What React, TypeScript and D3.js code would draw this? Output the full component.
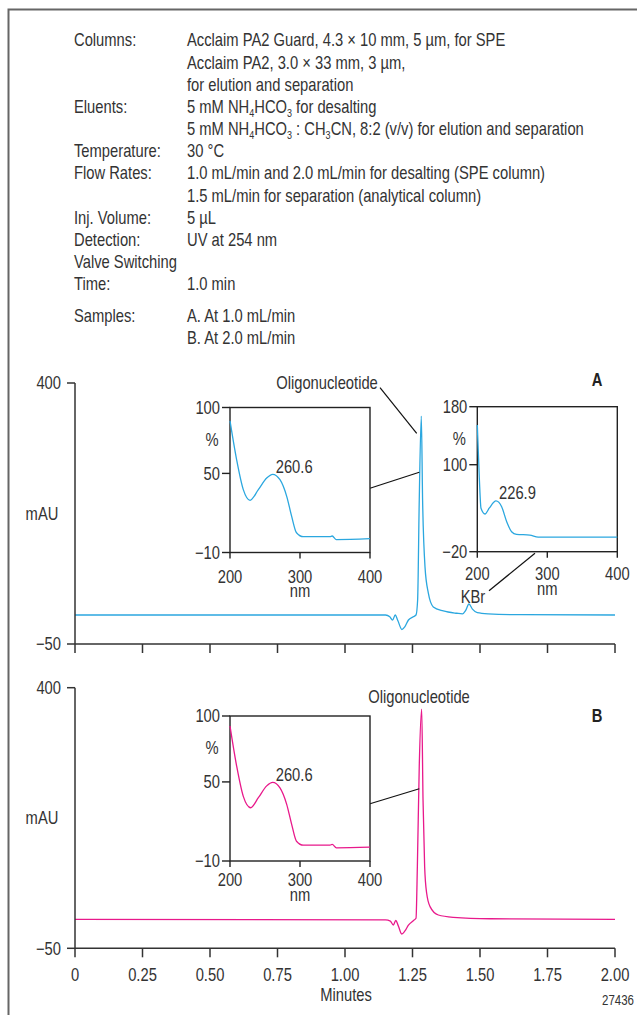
import React from 'react';
import * as d3 from 'd3';

// no condensed face installed: squeeze Liberation Sans horizontally
const FONT = "'Liberation Sans', Arimo, Arial, sans-serif";
const SX = 0.82;

// method conditions text block
const conditionLabels = ['Columns:', '', '', 'Eluents:', '', 'Temperature:', 'Flow Rates:', '', 'Inj. Volume:', 'Detection:', 'Valve Switching', 'Time:', 'Samples:', ''];
const conditionValues = [
  'Acclaim PA2 Guard, 4.3 × 10 mm, 5 µm, for SPE',
  'Acclaim PA2, 3.0 × 33 mm, 3 µm,',
  'for elution and separation',
  '5 mM NH_4HCO_3 for desalting',
  '5 mM NH_4HCO_3 : CH_3CN, 8:2 (v/v) for elution and separation',
  '30 °C',
  '1.0 mL/min and 2.0 mL/min for desalting (SPE column)',
  '1.5 mL/min for separation (analytical column)',
  '5 µL',
  'UV at 254 nm',
  '',
  '1.0 min',
  'A. At 1.0 mL/min',
  'B. At 2.0 mL/min',
];

// chromatogram A (1.0 mL/min)
const timeA = [0, 1.15, 1.166, 1.176, 1.186, 1.196, 1.211, 1.222, 1.235, 1.253, 1.263, 1.269, 1.275, 1.2826, 1.2874, 1.2963, 1.3085, 1.327, 1.364, 1.414, 1.435, 1.447, 1.459, 1.472, 1.49, 1.53, 1.65, 2.0];
const mauA = [0, 0, -3, -9, 0, -10, -25, -20, -8.6, -3, 0, 26, 198, 343, 198, 83, 38, 14, 7, 3, 2, 8, 19, 10, 4, 2, 0.5, 0];

// chromatogram B (2.0 mL/min)
const timeB = [0, 1.15, 1.168, 1.179, 1.188, 1.198, 1.21, 1.222, 1.235, 1.253, 1.263, 1.268, 1.275, 1.284, 1.289, 1.295, 1.3025, 1.315, 1.3457, 1.401, 1.537, 2.0];
const mauB = [0, -1, -3, -9.8, -2, -12, -25.3, -20, -10, -2.3, 1.8, 91, 264, 363, 206, 91, 45, 22, 7.5, 3.5, 1, 0];

// UV spectra
const nmA1 = [200, 209.5, 219, 228.6, 240.5, 252.4, 261, 271.4, 281, 288, 295, 304.8, 342.9, 346, 352, 400];
const pctA1 = [89.9, 60.3, 37.7, 29.6, 37.7, 46.5, 49.3, 45.2, 32.6, 17.6, 5, 2, 2, 2.5, -0.2, 0.5];
const nmA2 = [200, 202.9, 205.3, 211, 217, 226.7, 234.8, 242, 249, 256, 275, 287, 400];
const pctA2 = [154.8, 81.2, 39.9, 32, 40, 50, 42, 21.4, 7.6, 4, 3, 0, 0];
const nmB1 = [200, 209.5, 219, 229.5, 240.5, 252.4, 261, 271.4, 281, 288, 295, 304.8, 342.9, 346, 352, 400];
const pctB1 = [92.4, 62, 39, 30.4, 38, 47, 49.7, 45.5, 33, 18, 5, 2, 2, 2.6, 0, 0.5];

const timeTicks = [0, 0.25, 0.5, 0.75, 1.0, 1.25, 1.5, 1.75, 2.0];
const mauTicks = [-50, 400];
const nmTicks = [200, 300, 400];
const pctTicks1 = [-10, 50, 100];
const pctTicks2 = [-20, 100, 180];

const BLUE = '#2ba7df';
const PINK = '#e8198b';
const AXIS = '#333';

const fmtTime = (d: number) => (d === 0 ? '0' : d.toFixed(2));
const fmtNum = (d: number) => (d < 0 ? '\u2212' + Math.abs(d) : String(d));

// condensed text at (x, y) with vertical centring
const T = ({ x, y, anchor = 'start', children, ...rest }: any) => (
  <text transform={`translate(${x},${y}) scale(${SX},1)`} textAnchor={anchor} dy="0.36em" {...rest}>
    {children}
  </text>
);

function withSubs(s: string) {
  const parts = s.split(/_(\d)/);
  return parts.map((p, i) => {
    if (i % 2 === 1) return <tspan key={i} fontSize={11} dy={4}>{p}</tspan>;
    if (i > 0) return <tspan key={i} dy={-4}>{p}</tspan>;
    return <tspan key={i}>{p}</tspan>;
  });
}

const xMain = d3.scaleLinear().domain([0, 2]).range([75, 615]);

const Chromatogram = ({ times, values, color, yTop, yBottom, showLabels }: any) => {
  const y = d3.scaleLinear().domain([-50, 400]).range([yBottom, yTop]);
  const line = d3.line<number>()
    .x((d, i) => xMain(times[i]))
    .y(d => y(d))
    .curve(d3.curveMonotoneX);
  return (
    <g>
      <path d={line(values) || ''} fill="none" stroke={color} strokeWidth={1.3} />
      <line x1={xMain(0)} x2={xMain(0)} y1={y(400)} y2={y(-50)} stroke={AXIS} strokeWidth={1.5} />
      <line x1={xMain(0)} x2={xMain(2)} y1={y(-50)} y2={y(-50)} stroke={AXIS} strokeWidth={1.5} />
      {mauTicks.map(t => (
        <g key={t}>
          <line x1={xMain(0) - 8} x2={xMain(0)} y1={y(t)} y2={y(t)} stroke={AXIS} strokeWidth={1.5} />
          <T x={xMain(0) - 14} y={y(t)} anchor="end">{fmtNum(t)}</T>
        </g>
      ))}
      {timeTicks.map(t => (
        <g key={t}>
          <line x1={xMain(t)} x2={xMain(t)} y1={y(-50)} y2={y(-50) + 9} stroke={AXIS} strokeWidth={1.5} />
          {showLabels && <T x={xMain(t)} y={y(-50) + 26} anchor="middle">{fmtTime(t)}</T>}
        </g>
      ))}
      <T x={42} y={(yTop + yBottom) / 2} anchor="middle">mAU</T>
    </g>
  );
};

const Spectrum = ({ nm, pct, color, x0, yTop, yDom, ticks, peak, labOff, nmOff }: any) => {
  const w = 140, h = 145;
  const x = d3.scaleLinear().domain([200, 400]).range([x0, x0 + w]);
  const y = d3.scaleLinear().domain(yDom).range([yTop + h, yTop]);
  const line = d3.line<number>()
    .x((d, i) => x(nm[i]))
    .y(d => y(d))
    .curve(d3.curveMonotoneX);
  const pi = pct.indexOf(d3.max(pct.slice(2)));
  return (
    <g>
      <rect x={x0} y={yTop} width={w} height={h} fill="#fff" stroke="#222" strokeWidth={1.4} />
      <path d={line(pct) || ''} fill="none" stroke={color} strokeWidth={1.3} />
      {ticks.map((t: number) => (
        <g key={t}>
          <line x1={x0 - 8} x2={x0} y1={y(t)} y2={y(t)} stroke="#222" strokeWidth={1.4} />
          <T x={x0 - 10} y={y(t)} anchor="end">{fmtNum(t)}</T>
        </g>
      ))}
      {nmTicks.map(t => (
        <g key={t}>
          <line x1={x(t)} x2={x(t)} y1={yTop + h} y2={yTop + h + 6} stroke="#222" strokeWidth={1.4} />
          <T x={x(t)} y={yTop + h + labOff} anchor="middle">{t}</T>
        </g>
      ))}
      <T x={x(300)} y={yTop + h + nmOff} anchor="middle">nm</T>
      <T x={x0 - 18} y={yTop + 32} anchor="middle">%</T>
      <T x={x(nm[pi]) + 3} y={y(pct[pi]) - 8}>{peak}</T>
    </g>
  );
};

export default function App() {
  const rowY = (i: number) => 40 + i * 22.15 + (i >= 12 ? 10 : 0);
  return (
    <svg width={637} height={1015} style={{ position: 'absolute', left: 0, top: 0, background: '#fff' }}
      fontFamily={FONT} fontSize={18} fill="#333">
      <rect x={8.5} y={9.5} width={700} height={1100} fill="none" stroke="#666" strokeWidth={2} />

      {conditionLabels.map((l, i) => (
        <T key={'l' + i} x={74} y={rowY(i)}>{l}</T>
      ))}
      {conditionValues.map((v, i) => (
        <T key={'v' + i} x={187} y={rowY(i)}>{withSubs(v)}</T>
      ))}

      {/* chart A */}
      <Chromatogram times={timeA} values={mauA} color={BLUE} yTop={383} yBottom={644} showLabels={false} />
      <line x1={380} y1={387.7} x2={416.7} y2={433.3} stroke="#111" strokeWidth={1.2} />
      <line x1={370} y1={488.3} x2={419.3} y2={472.3} stroke="#111" strokeWidth={1.2} />
      <line x1={489} y1={590.7} x2={535} y2={553.3} stroke="#111" strokeWidth={1.2} />
      <Spectrum nm={nmA1} pct={pctA1} color={BLUE} x0={230} yTop={407.5} yDom={[-10, 100]} ticks={pctTicks1} peak="260.6" labOff={24} nmOff={38.5} />
      <Spectrum nm={nmA2} pct={pctA2} color={BLUE} x0={477.3} yTop={406.7} yDom={[-20, 180]} ticks={pctTicks2} peak="226.9" labOff={21.5} nmOff={36.5} />
      <T x={327} y={383} anchor="middle">Oligonucleotide</T>
      <T x={473} y={596.7} anchor="middle">KBr</T>
      <T x={597} y={379.3} anchor="middle" fontWeight="bold" fill="#222">A</T>

      {/* chart B */}
      <Chromatogram times={timeB} values={mauB} color={PINK} yTop={687.7} yBottom={948.3} showLabels={true} />
      <line x1={370} y1={803.7} x2={419.3} y2={788.7} stroke="#111" strokeWidth={1.2} />
      <Spectrum nm={nmB1} pct={pctB1} color={PINK} x0={230} yTop={716} yDom={[-10, 100]} ticks={pctTicks1} peak="260.6" labOff={18.5} nmOff={34} />
      <T x={419} y={696.7} anchor="middle">Oligonucleotide</T>
      <T x={597} y={716} anchor="middle" fontWeight="bold" fill="#222">B</T>

      <T x={346} y={995} anchor="middle">Minutes</T>
      <T x={634} y={999.5} anchor="end" fontSize={14}>27436</T>
    </svg>
  );
}
